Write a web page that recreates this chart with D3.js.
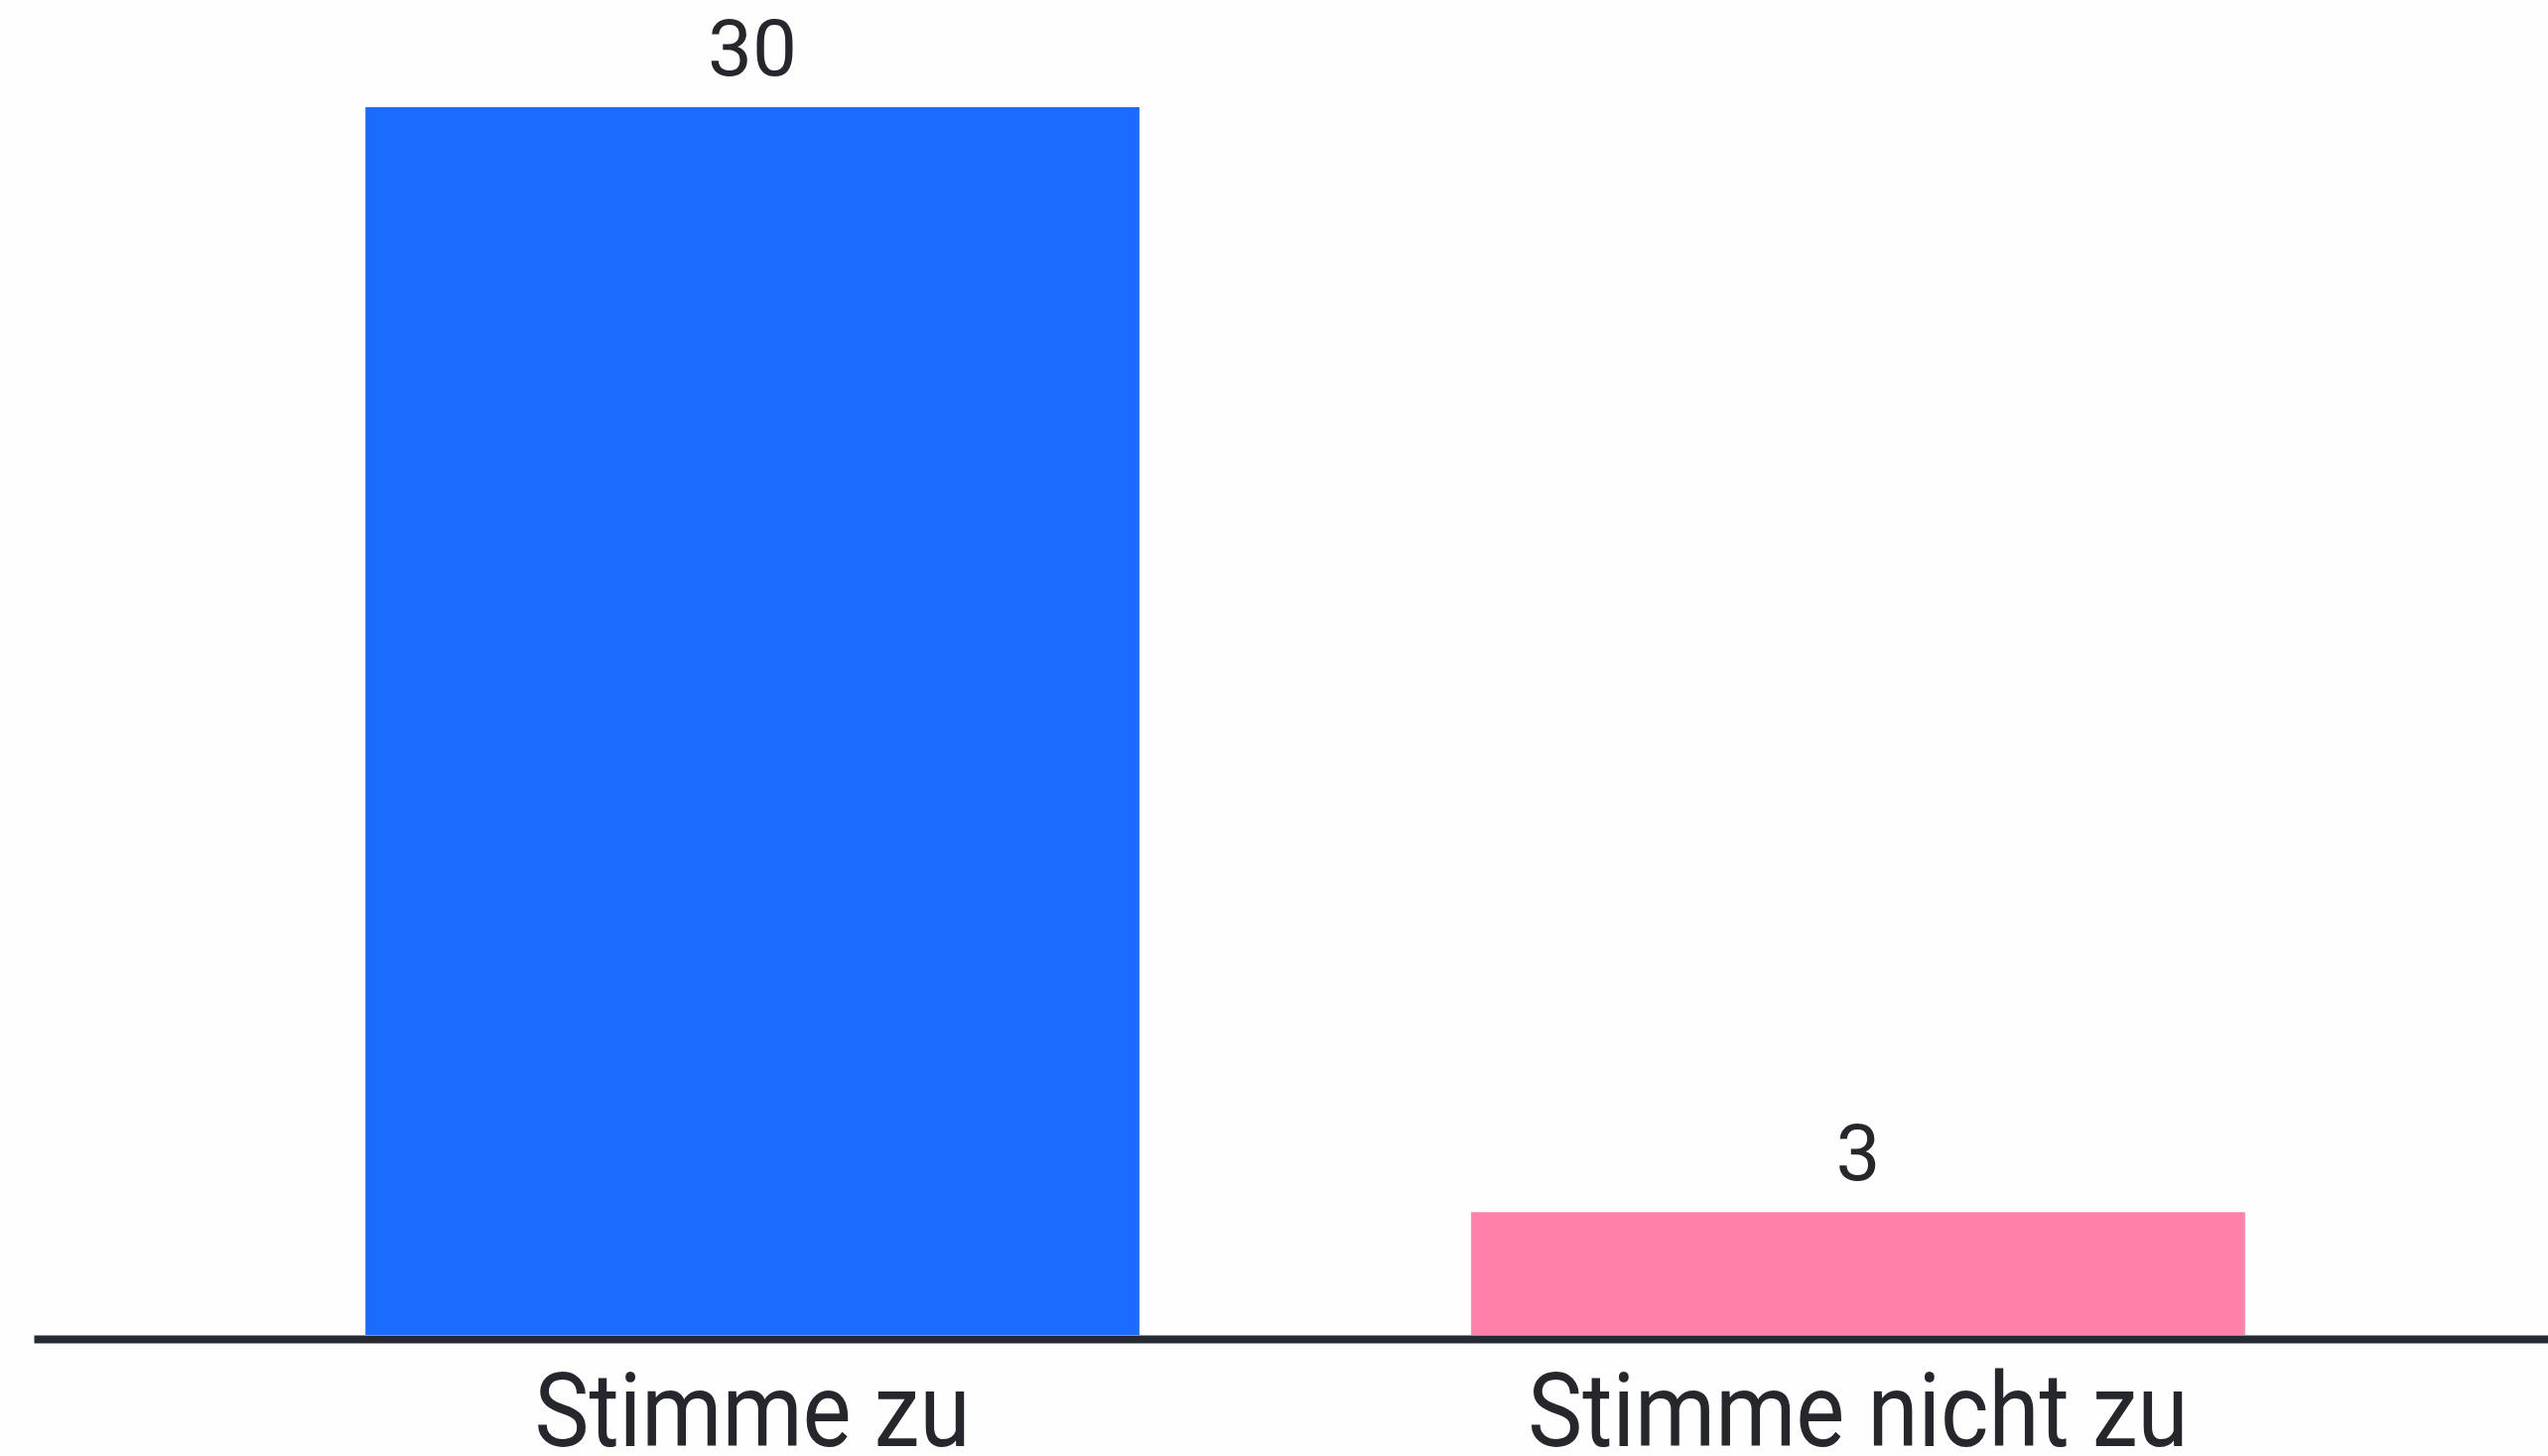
<!DOCTYPE html>
<html lang="de">
<head>
    <meta charset="UTF-8">
    <title>Balkendiagramm</title>
    <style>
        body {margin: 0; background: #ffffff; overflow: hidden;}
        text {font-family: Roboto, "Noto Sans", sans-serif;}
    </style>
    <script src="https://d3js.org/d3.v7.min.js"></script>
</head>
<body>
    <div id="chart"></div>

<script>
// Data for the chart
var categories = ["Stimme zu", "Stimme nicht zu"];
var values = [30, 3];
var barColors = ["#1c6bff", "#ff80a9"];

// Size of the page
var width = 2567;
var height = 1467;

// Build rows from the arrays
var data = categories.map(function(c, i){
    return {label: c, value: values[i], color: barColors[i]};
});

// Scale for X
var xScale = d3.scaleBand()
    .domain(categories)
    .range([34, 2596])
    .paddingInner(0.3)
    .paddingOuter(0.3);

// Scale for Y
var yScale = d3.scaleLinear()
    .domain([0, 30])
    .range([1345, 108]);

// Create SVG Container
var svg = d3.select("#chart").append("svg")
    .attr("width", width)
    .attr("height", height);

svg.append("rect")
    .attr("width", width)
    .attr("height", height)
    .attr("fill", "#fefefe");

// Bars
svg.selectAll("rect.bar")
    .data(data)
    .enter()
    .append("rect")
        .attr("class", "bar")
        .attr("x", function(d){ return xScale(d.label); })
        .attr("y", function(d){ return yScale(d.value); })
        .attr("width", xScale.bandwidth())
        .attr("height", function(d){ return yScale(0) - yScale(d.value); })
        .attr("fill", function(d){ return d.color; });

// Value labels above bars
svg.selectAll("text.value")
    .data(data)
    .enter()
    .append("text")
        .attr("class", "value")
        .attr("x", function(d){ return xScale(d.label) + xScale.bandwidth() / 2; })
        .attr("y", function(d){ return yScale(d.value) - 32; })
        .attr("text-anchor", "middle")
        .attr("font-size", "80px")
        .attr("fill", "#25272c")
        .text(function(d){ return d.value; });

// X axis - only the baseline and the labels
var xAxis = d3.axisBottom(xScale)
    .tickSize(0)
    .tickPadding(0);

var axisG = svg.append("g")
    .attr("transform", "translate(0," + (yScale(0) + 4) + ")")
    .call(xAxis);

axisG.select(".domain")
    .attr("stroke", "#262a33")
    .attr("stroke-width", 8);

// labels are a bit narrow in the original, so squeeze them sideways
axisG.selectAll("text")
    .attr("font-size", "104px")
    .attr("font-family", "Roboto, 'Noto Sans', sans-serif")
    .attr("fill", "#25272c")
    .attr("dy", null)
    .attr("y", 108)
    .attr("transform", "scale(0.89,1)");
</script>
</body>
</html>
